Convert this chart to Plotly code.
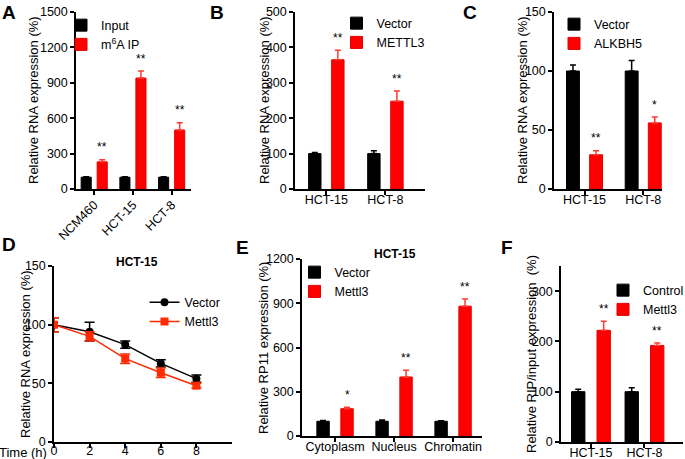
import plotly.graph_objects as go

# ---------------- data ----------------
a_cats = ["NCM460", "HCT-15", "HCT-8"]
a_input = [100, 100, 100]
a_input_err = [4, 4, 4]
a_ip = [230, 940, 500]
a_ip_err = [18, 60, 62]
a_stars = ["**", "**", "**"]

b_cats = ["HCT-15", "HCT-8"]
b_vector = [100, 100]
b_vector_err = [3, 8]
b_mettl3 = [365, 248]
b_mettl3_err = [27, 29]
b_stars = ["**", "**"]

c_cats = ["HCT-15", "HCT-8"]
c_vector = [100, 100]
c_vector_err = [5, 9]
c_alkbh5 = [29, 56]
c_alkbh5_err = [3.5, 5]
c_stars = ["**", "*"]

d_time = [0, 2, 4, 6, 8]
d_vector = [100, 94, 83, 67, 54]
d_vector_err = [6, 8, 3, 3, 3]
d_mettl3 = [100, 90, 71, 59, 48]
d_mettl3_err = [6, 4, 4, 4, 2]
d_xticks = [0, 2, 4, 6, 8]

e_cats = ["Cytoplasm", "Nucleus", "Chromatin"]
e_vector = [100, 100, 100]
e_vector_err = [5, 8, 3]
e_mettl3 = [185, 400, 880]
e_mettl3_err = [10, 45, 48]
e_stars = ["*", "**", "**"]

f_cats = ["HCT-15", "HCT-8"]
f_control = [100, 100]
f_control_err = [5, 8]
f_mettl3 = [222, 192]
f_mettl3_err = [18, 5]
f_stars = ["**", "**"]

BLACK = "#000000"
RED = "#ff0000"
RED_ERR = "#ff3b2f"
LINE_RED = "#ff2a00"
FONT = "Liberation Sans, Arial, sans-serif"

W, H = 685, 459


def px_x(x):
    return x / W


def px_y(y):
    return 1 - y / H


# bar geometry per panel (category units): (first offset, second offset, width)
BAR_GEOM = {
    "x": (-0.337, 0.077, 0.26),
    "x2": (-0.30, 0.09, 0.21),
    "x3": (-0.307, 0.087, 0.22),
    "x5": (-0.308, 0.098, 0.21),
    "x6": (-0.363, 0.113, 0.25),
}

fig = go.Figure()
annotations = []


def add_bar_pair(xaxis, yaxis, legend, cats, v1, e1, n1, v2, e2, n2, star_labels, yrange):
    o1, o2, w = BAR_GEOM[xaxis]
    fig.add_trace(go.Bar(
        x=cats, y=v1, name=n1, width=w, offset=o1,
        marker=dict(color=BLACK, line=dict(color=BLACK, width=1)),
        error_y=dict(type="data", array=e1, arrayminus=[0] * len(e1), symmetric=False,
                     color=BLACK, thickness=1.5, width=3),
        xaxis=xaxis, yaxis=yaxis, legend=legend))
    fig.add_trace(go.Bar(
        x=cats, y=v2, name=n2, width=w, offset=o2,
        marker=dict(color=RED, line=dict(color="#e60000", width=1)),
        error_y=dict(type="data", array=e2, arrayminus=[0] * len(e2), symmetric=False,
                     color=RED_ERR, thickness=1.5, width=3),
        xaxis=xaxis, yaxis=yaxis, legend=legend))
    for i, (v, e, s) in enumerate(zip(v2, e2, star_labels)):
        annotations.append(dict(x=i + o2 + w / 2, y=v + e + 0.07 * yrange,
                                xref=xaxis, yref=yaxis, text=s, showarrow=False,
                                xanchor="center", yanchor="middle",
                                font=dict(family=FONT, size=12, color=BLACK)))


add_bar_pair("x", "y", "legend", a_cats, a_input, a_input_err, "Input",
             a_ip, a_ip_err, "m<sup>6</sup>A IP", a_stars, 1500)
add_bar_pair("x2", "y2", "legend2", b_cats, b_vector, b_vector_err, "Vector",
             b_mettl3, b_mettl3_err, "METTL3", b_stars, 500)
add_bar_pair("x3", "y3", "legend3", c_cats, c_vector, c_vector_err, "Vector",
             c_alkbh5, c_alkbh5_err, "ALKBH5", c_stars, 150)
add_bar_pair("x5", "y5", "legend5", e_cats, e_vector, e_vector_err, "Vector",
             e_mettl3, e_mettl3_err, "Mettl3", e_stars, 1200)
add_bar_pair("x6", "y6", "legend6", f_cats, f_control, f_control_err, "Control",
             f_mettl3, f_mettl3_err, "Mettl3", f_stars, 350)

# panel D lines
fig.add_trace(go.Scatter(
    x=d_time, y=d_vector, name="Vector", mode="lines+markers",
    line=dict(color=BLACK, width=1.5), marker=dict(symbol="circle", size=8, color=BLACK),
    error_y=dict(type="data", array=d_vector_err, color=BLACK, thickness=1.5, width=5),
    xaxis="x4", yaxis="y4", legend="legend4"))
fig.add_trace(go.Scatter(
    x=d_time, y=d_mettl3, name="Mettl3", mode="lines+markers",
    line=dict(color=LINE_RED, width=1.5), marker=dict(symbol="square", size=8, color=LINE_RED),
    error_y=dict(type="data", array=d_mettl3_err, color=LINE_RED, thickness=1.5, width=5),
    xaxis="x4", yaxis="y4", legend="legend4"))

# ---------------- axes ----------------
axis_common = dict(showline=True, linecolor=BLACK, linewidth=1.5, ticks="outside",
                   ticklen=4, tickwidth=1.5, tickcolor=BLACK, showgrid=False, zeroline=False,
                   tickfont=dict(family=FONT, size=12.5, color=BLACK), fixedrange=True,
                   automargin=False)

panels = {
    # name: (x px range, y px range, xrange, yrange, ydtick)
    "1": ((76, 191), (12, 189), [-0.47, 2.5], [0, 1500], 300),
    "2": ((295, 425), (12, 189), [-0.53, 1.67], [0, 500], 100),
    "3": ((554, 662), (12, 189), [-0.52, 1.32], [0, 150], 50),
    "4": ((54, 232), (266, 442), [0, 10], [0, 150], 50),
    "5": ((302, 482), (259, 436), [-0.56, 2.49], [0, 1200], 300),
    "6": ((561, 683), (266, 442), [-0.56, 1.72], [0, 350], 100),
}

layout = {}
for k, (xp, yp, xr, yr, dt) in panels.items():
    xa = "xaxis" if k == "1" else "xaxis" + k
    ya = "yaxis" if k == "1" else "yaxis" + k
    xref = "x" if k == "1" else "x" + k
    yref = "y" if k == "1" else "y" + k
    layout[xa] = dict(axis_common, domain=[px_x(xp[0]), px_x(xp[1])], range=xr,
                      anchor=yref, tickangle=0, ticklabelstandoff=-6)
    layout[ya] = dict(axis_common, domain=[px_y(yp[1]), px_y(yp[0])], range=yr,
                      dtick=dt, tick0=0, anchor=xref)

layout["xaxis"].update(tickangle=-45, ticklabelstandoff=-2)
layout["xaxis4"].update(tickvals=d_xticks, ticklabelstandoff=-8)
layout["yaxis6"].update(tickvals=[0, 100, 200, 300])

fig.update_layout(**layout)

fig.update_layout(
    width=W, height=H, margin=dict(l=0, r=0, t=0, b=0, autoexpand=False),
    paper_bgcolor="white", plot_bgcolor="white",
    font=dict(family=FONT, size=13, color=BLACK),
    barmode="group",
    showlegend=True,
)

leg_common = dict(bgcolor="rgba(0,0,0,0)", font=dict(family=FONT, size=12.5, color=BLACK),
                  xanchor="left", yanchor="top", tracegroupgap=0, itemwidth=30,
                  borderwidth=0)
fig.update_layout(
    legend=dict(leg_common, x=px_x(61), y=px_y(10.5)),
    legend2=dict(leg_common, x=px_x(336.5), y=px_y(8.5)),
    legend3=dict(leg_common, x=px_x(554), y=px_y(9.5)),
    legend4=dict(leg_common, x=px_x(144.5), y=px_y(287.5)),
    legend5=dict(leg_common, x=px_x(294.5), y=px_y(257.5)),
    legend6=dict(leg_common, x=px_x(603), y=px_y(275.5)),
)

# y-axis titles
for text, xp, yc in [
    ("Relative RNA expression (%)", 33, 100),
    ("Relative RNA expression (%)", 264, 100),
    ("Relative RNA expression (%)", 522, 100),
    ("Relative RNA expression (%)", 25, 354),
    ("Relative RP11 expression (%)", 263, 348),
    ("Relative RIP/input expression  (%)", 531, 354),
]:
    annotations.append(dict(x=px_x(xp), y=px_y(yc), xref="paper", yref="paper",
                            text=text, textangle=-90, showarrow=False,
                            xanchor="center", yanchor="middle",
                            font=dict(family=FONT, size=13, color=BLACK)))

# panel letters
for letter, xp, yp in [("A", 9, 12), ("B", 217, 12), ("C", 470, 12),
                       ("D", 9, 245), ("E", 243, 247), ("F", 507, 247)]:
    annotations.append(dict(x=px_x(xp), y=px_y(yp), xref="paper", yref="paper",
                            text="<b>%s</b>" % letter, showarrow=False,
                            xanchor="center", yanchor="middle",
                            font=dict(family=FONT, size=19, color=BLACK)))

# panel subtitles
for text, xp, yp in [("<b>HCT-15</b>", 137, 262), ("<b>HCT-15</b>", 395, 254)]:
    annotations.append(dict(x=px_x(xp), y=px_y(yp), xref="paper", yref="paper",
                            text=text, showarrow=False, xanchor="center", yanchor="middle",
                            font=dict(family=FONT, size=12, color=BLACK)))
annotations.append(dict(x=px_x(23), y=px_y(452), xref="paper", yref="paper",
                        text="Time (h)", showarrow=False, xanchor="center", yanchor="middle",
                        font=dict(family=FONT, size=13, color=BLACK)))

fig.update_layout(annotations=annotations)

fig.write_html("out.html", config={"displayModeBar": False},
               post_script="document.body.style.margin='0px';")
